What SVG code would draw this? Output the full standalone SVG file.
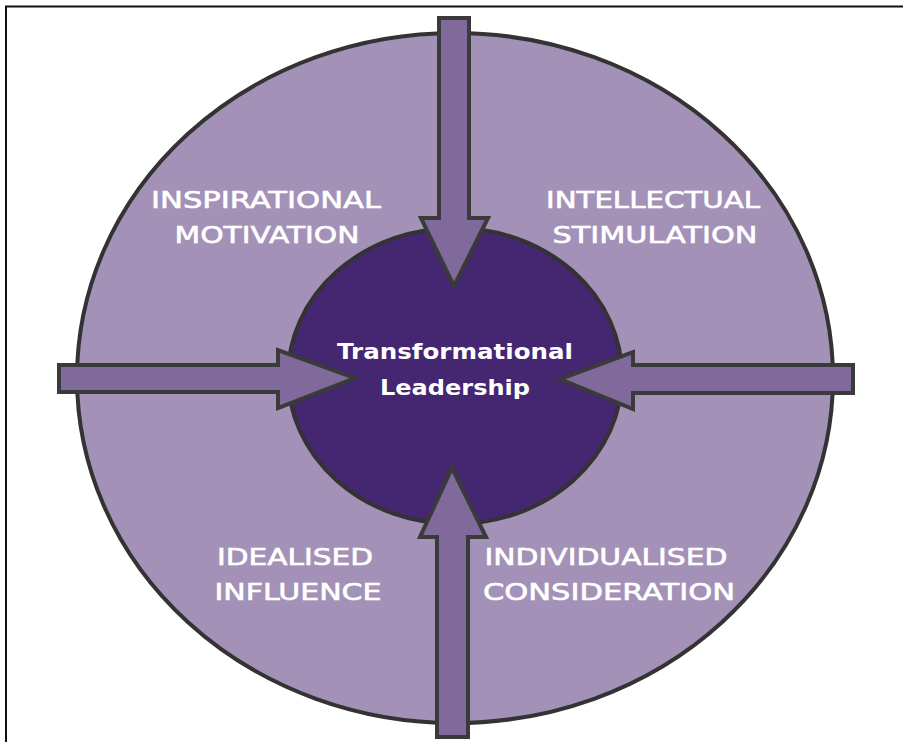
<svg xmlns="http://www.w3.org/2000/svg" width="903" height="742" viewBox="0 0 903 742">
<style>
.frame{fill:none;stroke:#111;stroke-width:2}
.outer{fill:#A391B8;stroke:#333;stroke-width:4}
.inner{fill:#452670;stroke:#333;stroke-width:4}
.arrow{fill:#7F6A9B;stroke:#3a3a3a;stroke-width:4;stroke-linejoin:miter}
.lbl{fill:#fff;stroke:#fff;stroke-width:0.6;font-family:"DejaVu Sans","Liberation Sans",sans-serif;font-size:23px;text-anchor:middle}
.ctr{fill:#fff;font-family:"DejaVu Sans","Liberation Sans",sans-serif;font-size:22px;font-weight:bold;text-anchor:middle}
</style>
<rect width="903" height="742" fill="#fff"/>
<path class="frame" d="M6,742 V6.5 H903"/>
<g id="outer-ring"><ellipse class="outer" cx="455" cy="378" rx="378" ry="345"/></g>
<g id="core">
<ellipse class="inner" cx="455" cy="376" rx="167" ry="148"/>
<text class="ctr" x="455" y="359" textLength="236" lengthAdjust="spacingAndGlyphs">Transformational</text>
<text class="ctr" x="455" y="395" textLength="150" lengthAdjust="spacingAndGlyphs">Leadership</text>
</g>
<g id="connectors">
<polygon class="arrow" points="439,18 469,18 469,218 488,218 454,286 421,218 439,218"/>
<polygon class="arrow" points="59,365 278,365 278,350 355,378 278,408 278,392 59,392"/>
<polygon class="arrow" points="853,365 633,365 633,352 560,379 633,409 633,393 853,393"/>
<polygon class="arrow" points="437,737 437,537 420,537 452,468 486,537 468,537 468,737"/>
</g>
<g id="inspirational-motivation">
<text class="lbl" x="266" y="208" textLength="230" lengthAdjust="spacingAndGlyphs">INSPIRATIONAL</text>
<text class="lbl" x="267" y="243" textLength="185" lengthAdjust="spacingAndGlyphs">MOTIVATION</text>
</g>
<g id="intellectual-stimulation">
<text class="lbl" x="653" y="208" textLength="214" lengthAdjust="spacingAndGlyphs">INTELLECTUAL</text>
<text class="lbl" x="655" y="243" textLength="205" lengthAdjust="spacingAndGlyphs">STIMULATION</text>
</g>
<g id="idealised-influence">
<text class="lbl" x="295" y="565" textLength="156" lengthAdjust="spacingAndGlyphs">IDEALISED</text>
<text class="lbl" x="298" y="600" textLength="167" lengthAdjust="spacingAndGlyphs">INFLUENCE</text>
</g>
<g id="individualised-consideration">
<text class="lbl" x="606" y="565" textLength="243" lengthAdjust="spacingAndGlyphs">INDIVIDUALISED</text>
<text class="lbl" x="609" y="600" textLength="252" lengthAdjust="spacingAndGlyphs">CONSIDERATION</text>
</g>
</svg>
